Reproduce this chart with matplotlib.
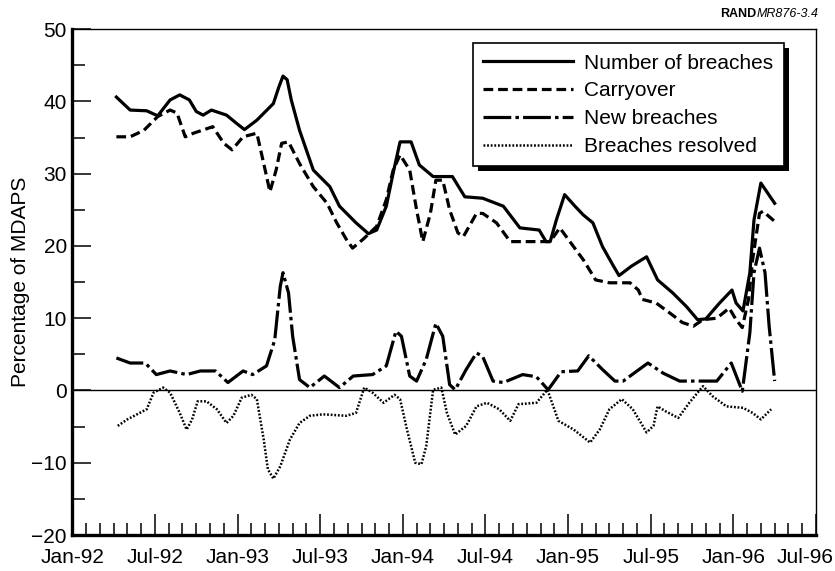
import matplotlib
matplotlib.use("Agg")
import matplotlib.pyplot as plt
from matplotlib import patheffects
from matplotlib.ticker import MultipleLocator
from matplotlib.transforms import ScaledTranslation

# ───────── DATA (x = months since Jan-92) ───────── #
tick_labels = ["Jan-92", "Jul-92", "Jan-93", "Jul-93", "Jan-94", "Jul-94",
               "Jan-95", "Jul-95", "Jan-96", "Jul-96"]

total_x = [3.2, 4.2, 5.4, 6.2, 7.1, 7.8, 8.5, 9.0, 9.5, 10.1, 11.2, 11.9, 12.5,
           13.4, 14.6, 15.0, 15.3, 15.6, 15.9, 16.5, 17.5, 18.7, 19.4, 20.6,
           21.5, 22.1, 22.8, 23.3, 23.8, 24.6, 25.2, 26.2, 27.6, 28.5, 29.8,
           31.3, 32.5, 33.9, 34.4, 34.7, 35.15, 35.75, 36.5, 37.1, 37.8, 38.5,
           39.3, 39.7, 40.6, 41.7, 42.5, 43.6, 44.6, 45.4, 46.0, 47.0, 47.9,
           48.2, 48.7, 49.2, 49.5, 50.0, 51.0]
total_y = [40.6, 38.8, 38.7, 38.0, 40.2, 40.9, 40.2, 38.6, 38.1, 38.8, 38.1,
           37.0, 36.1, 37.4, 39.7, 42.0, 43.5, 43.0, 40.2, 36.0, 30.5, 28.2,
           25.5, 23.2, 21.7, 22.2, 25.5, 30.1, 34.4, 34.4, 31.2, 29.6, 29.6,
           26.8, 26.6, 25.5, 22.5, 22.2, 20.6, 20.6, 23.6, 27.1, 25.5, 24.3,
           23.2, 19.9, 17.2, 15.9, 17.2, 18.5, 15.3, 13.5, 11.6, 9.8, 9.9,
           12.1, 13.9, 12.1, 11.0, 16.3, 23.6, 28.7, 25.9]

carry_x = [3.2, 4.2, 5.2, 6.2, 7.1, 7.6, 8.2, 8.8, 10.2, 11.0, 11.6, 12.4, 13.4,
           13.9, 14.35, 14.8, 15.2, 15.7, 16.5, 17.5, 18.5, 19.2, 19.9, 20.35,
           21.1, 22.1, 22.8, 23.3, 23.8, 24.5, 25.0, 25.45, 26.0, 26.4, 26.9,
           27.4, 28.0, 28.4, 29.35, 29.8, 30.8, 31.8, 34.7, 35.4, 36.4, 37.1,
           38.0, 39.0, 40.5, 41.1, 41.4, 42.4, 43.4, 44.3, 45.1, 45.8, 46.8,
           47.7, 48.2, 48.65, 49.1, 49.4, 49.9, 50.15, 51.0]
carry_y = [35.1, 35.1, 36.0, 37.9, 38.8, 38.4, 35.1, 35.6, 36.5, 34.2, 33.3,
           35.1, 35.6, 31.4, 27.5, 30.5, 34.2, 34.4, 31.4, 28.2, 25.9, 23.2,
           20.9, 19.7, 20.9, 22.7, 26.4, 30.5, 32.6, 30.5, 25.0, 20.6, 24.5,
           29.1, 29.1, 25.0, 21.8, 21.3, 24.5, 24.5, 23.2, 20.6, 20.6, 22.5,
           19.9, 18.1, 15.3, 14.9, 14.9, 13.9, 12.6, 12.1, 10.7, 9.4, 8.9,
           9.8, 10.0, 11.4, 9.8, 8.7, 12.6, 18.1, 24.5, 24.8, 23.4]

new_x = [3.2, 4.2, 5.3, 6.1, 7.1, 8.3, 9.3, 10.4, 11.3, 12.4, 13.1, 14.1, 14.7,
         15.1, 15.3, 15.7, 16.0, 16.5, 17.25, 18.3, 19.4, 20.4, 21.8, 22.8,
         23.5, 23.9, 24.5, 25.0, 25.7, 26.4, 26.9, 27.4, 27.8, 28.6, 29.35,
         29.8, 30.55, 31.3, 32.7, 33.7, 34.55, 35.5, 36.7, 37.5, 38.5, 39.4,
         40.0, 41.8, 42.9, 44.1, 46.8, 47.85, 48.65, 49.2, 49.5, 49.9, 50.3,
         50.6, 51.0]
new_y = [4.5, 3.8, 3.8, 2.2, 2.7, 2.2, 2.7, 2.7, 1.1, 2.7, 2.2, 3.4, 7.0, 14.4,
         16.3, 13.5, 7.5, 1.5, 0.4, 2.0, 0.4, 2.0, 2.2, 3.4, 8.2, 7.5, 2.0, 1.3,
         4.3, 9.3, 7.5, 0.8, 0.1, 2.9, 5.2, 4.7, 1.3, 1.1, 2.2, 1.9, 0.1, 2.6,
         2.7, 4.8, 2.9, 1.3, 1.3, 3.8, 2.4, 1.3, 1.3, 3.8, -0.1, 8.0, 16.3,
         19.7, 16.3, 8.9, 1.3]

resolved_x = [3.3, 4.0, 5.4, 5.9, 6.6, 7.1, 7.8, 8.3, 8.7, 9.1, 9.75, 10.5,
              11.2, 11.7, 12.3, 13.0, 13.4, 13.9, 14.2, 14.6, 15.1, 15.8, 16.5,
              17.25, 18.2, 19.9, 20.6, 21.2, 21.8, 22.6, 23.4, 23.8, 24.3, 24.9,
              25.35, 25.7, 26.2, 26.8, 27.2, 27.8, 28.6, 29.35, 30.1, 31.0,
              31.8, 32.4, 33.7, 34.5, 35.3, 36.4, 37.6, 38.3, 39.0, 39.9, 40.7,
              41.7, 42.2, 42.5, 43.1, 44.0, 44.8, 45.8, 46.5, 47.5, 48.7, 49.4,
              50.0, 50.75]
resolved_y = [-4.9, -4.0, -2.6, -0.3, 0.4, -0.3, -3.1, -5.4, -4.0, -1.5, -1.5,
              -2.6, -4.5, -3.5, -1.0, -0.6, -1.2, -6.8, -10.9, -12.2, -10.5,
              -6.8, -4.5, -3.5, -3.3, -3.5, -3.1, 0.4, -0.3, -1.7, -0.6, -1.2,
              -5.4, -10.0, -10.2, -7.7, 0.1, 0.4, -3.1, -6.1, -4.9, -2.2, -1.7,
              -2.6, -4.2, -1.9, -1.7, 0.1, -4.2, -5.4, -7.2, -5.4, -2.6, -1.2,
              -2.6, -5.8, -4.9, -2.2, -2.9, -3.8, -1.7, 0.6, -0.8, -2.2, -2.4,
              -3.1, -4.0, -2.6]
# ────────────────────────────────────────────────── #

plt.rcParams["font.family"] = ["Liberation Sans", "DejaVu Sans"]
plt.rcParams["lines.scale_dashes"] = False

fig = plt.figure(figsize=(8.35, 5.71), dpi=100)
ax = fig.add_axes([0.0866, 0.063, 0.8906, 0.886])

ax.plot(total_x, total_y, color="black", lw=2.3, ls="-",
        label="Number of breaches", solid_joinstyle="round")
ax.plot(carry_x, carry_y, color="black", lw=2.3, dashes=(7, 3.5),
        label="Carryover")
ax.plot(new_x, new_y, color="black", lw=2.3, dashes=(20, 3, 2.5, 3),
        label="New breaches")
ax.plot(resolved_x, resolved_y, color="black", lw=1.8, dashes=(1.3, 1.3),
        label="Breaches resolved")
ax.axhline(0, color="black", lw=1.0, zorder=1)

ax.set_xlim(0, 54)
ax.set_ylim(-20, 50)
ax.set_xticks(range(0, 55, 6))
ax.set_xticklabels(tick_labels)
ax.xaxis.set_minor_locator(MultipleLocator(1))
ax.yaxis.set_major_locator(MultipleLocator(10))
ax.yaxis.set_minor_locator(MultipleLocator(5))

ax.tick_params(which="both", direction="in", labelsize=15, color="black")
ax.tick_params(axis="x", which="major", length=15, width=1.1, pad=9)
ax.tick_params(axis="x", which="minor", length=9, width=1.1)
ax.tick_params(axis="y", which="major", length=14, width=1.1, pad=4)
ax.tick_params(axis="y", which="minor", length=9.5, width=1.1)

# last date label sits a little left of its tick, inside the page
last = ax.get_xticklabels()[-1]
last.set_transform(last.get_transform()
                   + ScaledTranslation(-11 / 100, 0, fig.dpi_scale_trans))

for side in ["left", "bottom"]:
    ax.spines[side].set_linewidth(2.4)
for side in ["top", "right"]:
    ax.spines[side].set_linewidth(1.0)

ax.set_ylabel("Percentage of MDAPS", fontsize=15, labelpad=1)

leg = ax.legend(loc="upper right", bbox_to_anchor=(0.957, 0.972),
                borderaxespad=0, fontsize=15, frameon=True, fancybox=False,
                handlelength=4.3, handletextpad=0.55, labelspacing=0.42,
                borderpad=0.5, framealpha=1)
frame = leg.get_frame()
frame.set_edgecolor("black")
frame.set_linewidth(1.2)
frame.set_path_effects([
    patheffects.SimplePatchShadow(offset=(3.5, -3.5), shadow_rgbFace="black",
                                  alpha=1.0),
    patheffects.Normal(),
])

tag = fig.text(0.98, 0.975, "MR876-3.4", fontsize=9, style="italic",
               ha="right", va="center")
ax.annotate("RAND", xy=(0, 0.5), xycoords=tag, fontsize=9,
            fontweight="bold", ha="right", va="center")

fig.savefig("out.png", dpi=100)
